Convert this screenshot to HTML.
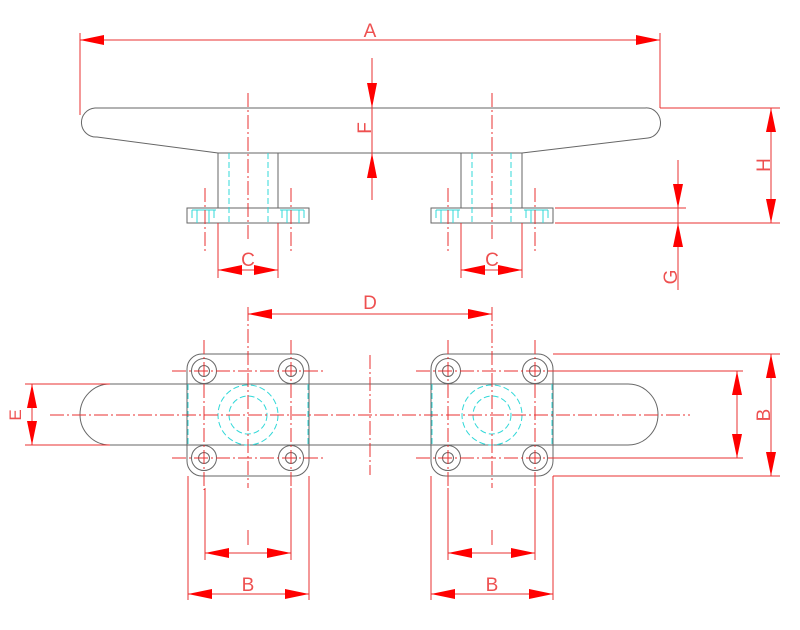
<!DOCTYPE html>
<html><head><meta charset="utf-8"><style>
html,body{margin:0;padding:0;background:#fff;}
svg{display:block;}
text{font-family:"Liberation Sans",sans-serif;fill:#ee5050;font-size:19px;}
</style></head><body>
<svg width="800" height="630" viewBox="0 0 800 630" xmlns="http://www.w3.org/2000/svg">
<defs>
<g id="plateS">
 <rect x="0" y="0" width="122" height="15" fill="none" stroke="#666" stroke-width="1"/>
 <g stroke="#30d8d8" stroke-width="1" fill="none">
  <path d="M5 2 H29 M5 2 V10 M10 2 V15 M22 2 V15 M27 2 V10"/>
  <path d="M93 2 H117 M117 2 V10 M112 2 V15 M100 2 V15 M95 2 V10"/>
 </g>
</g>
<g id="plateT">
 <rect x="0" y="0" width="122" height="122" rx="15" fill="none" stroke="#666" stroke-width="1"/>
 <g fill="none" stroke="#666" stroke-width="1">
  <circle cx="17" cy="17" r="12.5"/><circle cx="17" cy="17" r="5.5"/>
  <circle cx="104" cy="17" r="12.5"/><circle cx="104" cy="17" r="5.5"/>
  <circle cx="17" cy="104" r="12.5"/><circle cx="17" cy="104" r="5.5"/>
  <circle cx="104" cy="104" r="12.5"/><circle cx="104" cy="104" r="5.5"/>
 </g>
 <g fill="none" stroke="#30d8d8" stroke-width="1" stroke-dasharray="6,3">
  <circle cx="61" cy="61" r="30"/><circle cx="61" cy="61" r="19"/>
  <path d="M1 30 V92 M121 30 V92"/>
 </g>
 <g stroke="#e83030" stroke-width="1" stroke-dasharray="14,3,2,3" fill="none">
  <path d="M-15 17 H137 M-15 104 H137 M17 -14 V136 M104 -14 V136"/>
 </g>
</g>
</defs>

<!-- ===== TOP VIEW ===== -->
<g fill="none" stroke="#666" stroke-width="1">
 <path d="M95 108 H645 A13 14 0 0 1 648 138 L522 153 H218 L97 137 A14 14 0 0 1 95 108 Z"/>
 <path d="M218 153 V208 M278 153 V208 M461 153 V208 M522 153 V208"/>
</g>
<use href="#plateS" x="187" y="208"/>
<use href="#plateS" x="431" y="208"/>
<g stroke="#30d8d8" stroke-width="1" stroke-dasharray="6,3">
 <path d="M229 153 V223 M268 153 V223 M472 153 V223 M511 153 V223"/>
</g>
<g stroke="#e83030" stroke-width="1" fill="none">
 <g stroke-dasharray="14,3,2,3">
  <path d="M248 93 V240 M492 93 V240"/>
  <path d="M205 188 V253 M291 188 V253 M448 188 V253 M535 188 V253"/>
 </g>
 <path d="M80 40 H660 M80 33 V115 M660 33 V108"/>
 <path d="M372 58 V200"/>
 <path d="M218 223 V278 M278 223 V278 M218 270 H278"/>
 <path d="M461 223 V278 M522 223 V278 M461 270 H522"/>
 <path d="M771 108 V223 M660 108 H780 M555 223 H780"/>
 <path d="M678 160 V290 M555 208 H686"/>
</g>
<g fill="#ff0000">
 <polygon points="80,40 104,35 104,45"/><polygon points="660,40 636,35 636,45"/>
 <polygon points="372,108 367,83 377,83"/><polygon points="372,153 367,178 377,178"/>
 <polygon points="218,270 242,265 242,275"/><polygon points="278,270 254,265 254,275"/>
 <polygon points="461,270 485,265 485,275"/><polygon points="522,270 498,265 498,275"/>
 <polygon points="771,108 766,132 776,132"/><polygon points="771,223 766,199 776,199"/>
 <polygon points="678,208 673,184 683,184"/><polygon points="678,223 673,247 683,247"/>
</g>
<text x="370" y="37" text-anchor="middle">A</text>
<text x="248" y="266" text-anchor="middle">C</text>
<text x="492" y="266" text-anchor="middle">C</text>
<text transform="translate(371,128) rotate(-90)" text-anchor="middle">F</text>
<text transform="translate(770,165) rotate(-90)" text-anchor="middle">H</text>
<text transform="translate(677,277) rotate(-90)" text-anchor="middle">G</text>

<!-- ===== BOTTOM VIEW ===== -->
<g fill="none" stroke="#666" stroke-width="1">
 <path d="M110 384 H628 A30 30.5 0 0 1 628 445 H110 A30 30.5 0 0 1 110 384 Z"/>
</g>
<use href="#plateT" x="187" y="354"/>
<use href="#plateT" x="431" y="354"/>
<g stroke="#e83030" stroke-width="1" fill="none">
 <g stroke-dasharray="14,3,2,3">
  <path d="M50 415 H690 M370 355 V475 M248 307 V488 M492 307 V488"/>
 </g>
 <path d="M248 314 H492"/>
 <path d="M32 384 V445 M25 384 H110 M25 445 H110"/>
 <path d="M771 354 V476 M553 354 H780 M553 476 H780"/>
 <path d="M737 371 V458 M553 371 H743 M553 458 H743"/>
 <path d="M188 476 V600 M309 476 V600 M205 488 V560 M291 488 V560 M188 594 H309 M205 553 H291"/>
 <path d="M431 476 V600 M553 476 V600 M448 488 V560 M535 488 V560 M431 594 H553 M448 553 H535"/>
 <path d="M248 530 V545 M492 530 V545"/>
</g>
<g fill="#ff0000">
 <polygon points="248,314 272,309 272,319"/><polygon points="492,314 468,309 468,319"/>
 <polygon points="32,384 27,408 37,408"/><polygon points="32,445 27,421 37,421"/>
 <polygon points="771,354 766,378 776,378"/><polygon points="771,476 766,452 776,452"/>
 <polygon points="737,371 732,395 742,395"/><polygon points="737,458 732,434 742,434"/>
 <polygon points="188,594 212,589 212,599"/><polygon points="309,594 285,589 285,599"/>
 <polygon points="205,553 229,548 229,558"/><polygon points="291,553 267,548 267,558"/>
 <polygon points="431,594 455,589 455,599"/><polygon points="553,594 529,589 529,599"/>
 <polygon points="448,553 472,548 472,558"/><polygon points="535,553 511,548 511,558"/>
</g>
<text x="370" y="309" text-anchor="middle">D</text>
<text x="248" y="591" text-anchor="middle">B</text>
<text x="492" y="591" text-anchor="middle">B</text>
<text transform="translate(770,415) rotate(-90)" text-anchor="middle">B</text>
<text transform="translate(21,415) rotate(-90)" text-anchor="middle" style="font-size:17px">E</text>
</svg>
</body></html>
